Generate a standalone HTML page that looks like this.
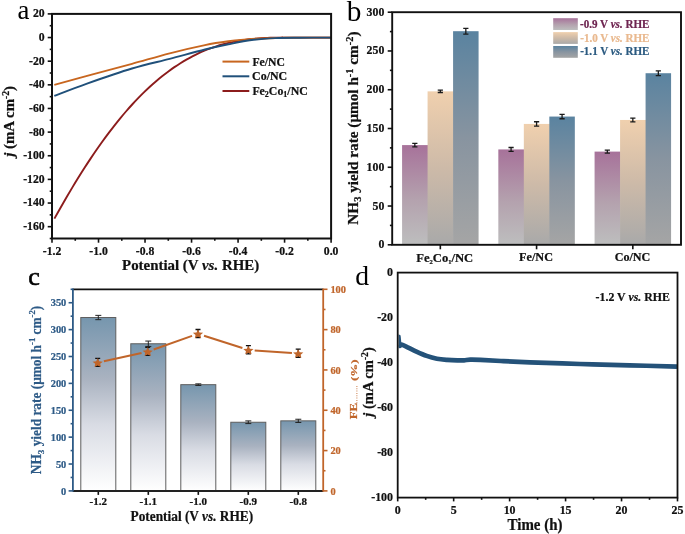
<!DOCTYPE html>
<html><head><meta charset="utf-8"><style>
html,body{margin:0;padding:0;background:#fff;}
svg{display:block;will-change:transform;}
</style></head><body>
<svg width="685" height="534" viewBox="0 0 685 534">
<rect width="685" height="534" fill="#fff"/>
<g id="pa">
<g id="A1" transform="matrix(1.05021,0,0,1.05021,-0.984,-0.899)"><text x="17.6" y="18.6" font-family="Liberation Serif" font-size="25.5" fill="#000">a</text></g>
<line x1="47.7" y1="13.90" x2="52.0" y2="13.90" stroke="#111" stroke-width="1.6"/>
<text x="44.6" y="17.30" font-family="Liberation Serif" font-weight="bold" font-size="11.7" text-anchor="end" fill="#111" stroke="#111" stroke-width="0.22">20</text>
<line x1="49.7" y1="25.72" x2="52.0" y2="25.72" stroke="#111" stroke-width="1.6"/>
<line x1="47.7" y1="37.54" x2="52.0" y2="37.54" stroke="#111" stroke-width="1.6"/>
<text x="44.6" y="40.94" font-family="Liberation Serif" font-weight="bold" font-size="11.7" text-anchor="end" fill="#111" stroke="#111" stroke-width="0.22">0</text>
<line x1="49.7" y1="49.36" x2="52.0" y2="49.36" stroke="#111" stroke-width="1.6"/>
<line x1="47.7" y1="61.18" x2="52.0" y2="61.18" stroke="#111" stroke-width="1.6"/>
<text x="44.6" y="64.58" font-family="Liberation Serif" font-weight="bold" font-size="11.7" text-anchor="end" fill="#111" stroke="#111" stroke-width="0.22">-20</text>
<line x1="49.7" y1="73.01" x2="52.0" y2="73.01" stroke="#111" stroke-width="1.6"/>
<line x1="47.7" y1="84.83" x2="52.0" y2="84.83" stroke="#111" stroke-width="1.6"/>
<text x="44.6" y="88.23" font-family="Liberation Serif" font-weight="bold" font-size="11.7" text-anchor="end" fill="#111" stroke="#111" stroke-width="0.22">-40</text>
<line x1="49.7" y1="96.65" x2="52.0" y2="96.65" stroke="#111" stroke-width="1.6"/>
<line x1="47.7" y1="108.47" x2="52.0" y2="108.47" stroke="#111" stroke-width="1.6"/>
<text x="44.6" y="111.87" font-family="Liberation Serif" font-weight="bold" font-size="11.7" text-anchor="end" fill="#111" stroke="#111" stroke-width="0.22">-60</text>
<line x1="49.7" y1="120.29" x2="52.0" y2="120.29" stroke="#111" stroke-width="1.6"/>
<line x1="47.7" y1="132.11" x2="52.0" y2="132.11" stroke="#111" stroke-width="1.6"/>
<text x="44.6" y="135.51" font-family="Liberation Serif" font-weight="bold" font-size="11.7" text-anchor="end" fill="#111" stroke="#111" stroke-width="0.22">-80</text>
<line x1="49.7" y1="143.93" x2="52.0" y2="143.93" stroke="#111" stroke-width="1.6"/>
<line x1="47.7" y1="155.75" x2="52.0" y2="155.75" stroke="#111" stroke-width="1.6"/>
<text x="44.6" y="159.15" font-family="Liberation Serif" font-weight="bold" font-size="11.7" text-anchor="end" fill="#111" stroke="#111" stroke-width="0.22">-100</text>
<line x1="49.7" y1="167.57" x2="52.0" y2="167.57" stroke="#111" stroke-width="1.6"/>
<line x1="47.7" y1="179.39" x2="52.0" y2="179.39" stroke="#111" stroke-width="1.6"/>
<text x="44.6" y="182.79" font-family="Liberation Serif" font-weight="bold" font-size="11.7" text-anchor="end" fill="#111" stroke="#111" stroke-width="0.22">-120</text>
<line x1="49.7" y1="191.22" x2="52.0" y2="191.22" stroke="#111" stroke-width="1.6"/>
<line x1="47.7" y1="203.04" x2="52.0" y2="203.04" stroke="#111" stroke-width="1.6"/>
<text x="44.6" y="206.44" font-family="Liberation Serif" font-weight="bold" font-size="11.7" text-anchor="end" fill="#111" stroke="#111" stroke-width="0.22">-140</text>
<line x1="49.7" y1="214.86" x2="52.0" y2="214.86" stroke="#111" stroke-width="1.6"/>
<line x1="47.7" y1="226.68" x2="52.0" y2="226.68" stroke="#111" stroke-width="1.6"/>
<text x="44.6" y="230.08" font-family="Liberation Serif" font-weight="bold" font-size="11.7" text-anchor="end" fill="#111" stroke="#111" stroke-width="0.22">-160</text>
<line x1="49.7" y1="238.50" x2="52.0" y2="238.50" stroke="#111" stroke-width="1.6"/>
<line x1="52.00" y1="238.5" x2="52.00" y2="242.7" stroke="#111" stroke-width="1.6"/>
<text x="52.00" y="254.8" font-family="Liberation Serif" font-weight="bold" font-size="11.7" text-anchor="middle" fill="#111" stroke="#111" stroke-width="0.22">-1.2</text>
<line x1="75.26" y1="238.5" x2="75.26" y2="240.8" stroke="#111" stroke-width="1.6"/>
<line x1="98.52" y1="238.5" x2="98.52" y2="242.7" stroke="#111" stroke-width="1.6"/>
<text x="98.52" y="254.8" font-family="Liberation Serif" font-weight="bold" font-size="11.7" text-anchor="middle" fill="#111" stroke="#111" stroke-width="0.22">-1.0</text>
<line x1="121.78" y1="238.5" x2="121.78" y2="240.8" stroke="#111" stroke-width="1.6"/>
<line x1="145.03" y1="238.5" x2="145.03" y2="242.7" stroke="#111" stroke-width="1.6"/>
<text x="145.03" y="254.8" font-family="Liberation Serif" font-weight="bold" font-size="11.7" text-anchor="middle" fill="#111" stroke="#111" stroke-width="0.22">-0.8</text>
<line x1="168.29" y1="238.5" x2="168.29" y2="240.8" stroke="#111" stroke-width="1.6"/>
<line x1="191.55" y1="238.5" x2="191.55" y2="242.7" stroke="#111" stroke-width="1.6"/>
<text x="191.55" y="254.8" font-family="Liberation Serif" font-weight="bold" font-size="11.7" text-anchor="middle" fill="#111" stroke="#111" stroke-width="0.22">-0.6</text>
<line x1="214.81" y1="238.5" x2="214.81" y2="240.8" stroke="#111" stroke-width="1.6"/>
<line x1="238.07" y1="238.5" x2="238.07" y2="242.7" stroke="#111" stroke-width="1.6"/>
<text x="238.07" y="254.8" font-family="Liberation Serif" font-weight="bold" font-size="11.7" text-anchor="middle" fill="#111" stroke="#111" stroke-width="0.22">-0.4</text>
<line x1="261.33" y1="238.5" x2="261.33" y2="240.8" stroke="#111" stroke-width="1.6"/>
<line x1="284.58" y1="238.5" x2="284.58" y2="242.7" stroke="#111" stroke-width="1.6"/>
<text x="284.58" y="254.8" font-family="Liberation Serif" font-weight="bold" font-size="11.7" text-anchor="middle" fill="#111" stroke="#111" stroke-width="0.22">-0.2</text>
<line x1="307.84" y1="238.5" x2="307.84" y2="240.8" stroke="#111" stroke-width="1.6"/>
<line x1="331.10" y1="238.5" x2="331.10" y2="242.7" stroke="#111" stroke-width="1.6"/>
<text x="331.10" y="254.8" font-family="Liberation Serif" font-weight="bold" font-size="11.7" text-anchor="middle" fill="#111" stroke="#111" stroke-width="0.22">0.0</text>
<path d="M54.40,218.65 C55.40,216.87 58.40,211.45 60.40,207.92 C62.40,204.40 64.40,200.92 66.40,197.49 C68.40,194.07 70.40,190.69 72.40,187.37 C74.40,184.05 76.40,180.77 78.40,177.56 C80.40,174.34 82.40,171.17 84.40,168.06 C86.40,164.95 88.40,161.90 90.40,158.90 C92.40,155.89 94.40,152.95 96.40,150.06 C98.40,147.17 100.40,144.33 102.40,141.55 C104.40,138.77 106.40,136.05 108.40,133.39 C110.40,130.73 112.40,128.12 114.40,125.57 C116.40,123.03 118.40,120.54 120.40,118.11 C122.40,115.68 124.40,113.31 126.40,111.00 C128.40,108.69 130.40,106.44 132.40,104.26 C134.40,102.07 136.40,99.95 138.40,97.88 C140.40,95.82 142.40,93.82 144.40,91.88 C146.40,89.93 148.40,88.05 150.40,86.23 C152.40,84.41 154.40,82.65 156.40,80.94 C158.40,79.24 160.40,77.59 162.40,76.01 C164.40,74.42 166.40,72.89 168.40,71.41 C170.40,69.93 172.40,68.52 174.40,67.15 C176.40,65.79 178.40,64.48 180.40,63.23 C182.40,61.97 184.40,60.77 186.40,59.63 C188.40,58.48 190.40,57.39 192.40,56.34 C194.40,55.30 196.40,54.31 198.40,53.38 C200.40,52.44 202.40,51.55 204.40,50.71 C206.40,49.88 208.40,49.09 210.40,48.35 C212.40,47.61 214.40,46.92 216.40,46.28 C218.40,45.64 220.40,45.04 222.40,44.49 C224.40,43.93 226.40,43.42 228.40,42.95 C230.40,42.47 232.40,42.04 234.40,41.64 C236.40,41.25 238.40,40.89 240.40,40.56 C242.40,40.23 244.40,39.94 246.40,39.68 C248.40,39.41 250.40,39.18 252.40,38.98 C254.40,38.77 256.40,38.59 258.40,38.44 C260.40,38.28 262.40,38.16 264.40,38.04 C266.40,37.93 268.40,37.85 270.40,37.78 C272.40,37.70 274.40,37.65 276.40,37.61 C278.40,37.58 280.97,37.54 282.40,37.54 C283.83,37.55 276.90,37.63 285.00,37.65 C293.10,37.67 323.33,37.65 331.00,37.65" fill="none" stroke="#8c1c1c" stroke-width="1.9" stroke-linejoin="round"/>
<path d="M54.30,84.80 C60.53,83.10 78.75,78.10 91.70,74.60 C104.65,71.10 119.00,67.35 132.00,63.80 C145.00,60.25 157.53,56.42 169.70,53.30 C181.87,50.18 195.22,47.10 205.00,45.10 C214.78,43.10 220.62,42.33 228.40,41.30 C236.18,40.27 242.27,39.49 251.70,38.90 C261.13,38.31 271.78,37.96 285.00,37.75 C298.22,37.54 323.33,37.67 331.00,37.65" fill="none" stroke="#c8661f" stroke-width="1.9" stroke-linejoin="round"/>
<path d="M54.30,95.90 C59.75,93.85 74.05,88.17 87.00,83.60 C99.95,79.03 118.22,72.63 132.00,68.50 C145.78,64.37 157.53,61.97 169.70,58.80 C181.87,55.63 195.22,51.92 205.00,49.50 C214.78,47.08 220.62,45.88 228.40,44.30 C236.18,42.72 243.93,41.03 251.70,40.00 C259.47,38.97 266.95,38.48 275.00,38.10 C283.05,37.72 290.67,37.78 300.00,37.70 C309.33,37.62 325.83,37.66 331.00,37.65" fill="none" stroke="#20507a" stroke-width="1.9" stroke-linejoin="round"/>
<rect x="52.0" y="13.9" width="279.10" height="224.60" fill="none" stroke="#111" stroke-width="2.0"/>
<line x1="222.5" y1="61.60" x2="249.3" y2="61.60" stroke="#c8661f" stroke-width="2"/>
<g id="A40" transform="matrix(0.98985,0,0,1.05914,2.506,-3.516)"><text x="252.5" y="65.60" font-family="Liberation Serif" font-weight="bold" font-size="11.8" fill="#111" stroke="#111" stroke-width="0.22">Fe/NC</text></g>
<line x1="222.5" y1="76.30" x2="249.3" y2="76.30" stroke="#20507a" stroke-width="2"/>
<g id="A41" transform="matrix(1.01000,0,0,1.08070,-2.893,-6.438)"><text x="252.5" y="80.30" font-family="Liberation Serif" font-weight="bold" font-size="11.8" fill="#111" stroke="#111" stroke-width="0.22">Co/NC</text></g>
<line x1="222.5" y1="91.00" x2="249.3" y2="91.00" stroke="#8c1c1c" stroke-width="2"/>
<g id="A42" transform="matrix(1.00287,0,0,1.07307,-0.840,-7.261)"><text x="252.5" y="95.00" font-family="Liberation Serif" font-weight="bold" font-size="11.8" fill="#111" stroke="#111" stroke-width="0.22">Fe<tspan font-size="8" dy="2.5">2</tspan><tspan dy="-2.5">Co</tspan><tspan font-size="8" dy="2.5">1</tspan><tspan dy="-2.5">/NC</tspan></text></g>
<g id="A2" transform="matrix(1.00743,0,0,1.00743,-1.564,-2.047)"><text x="122.7" y="270" font-family="Liberation Serif" font-weight="bold" font-size="14.8" fill="#111" stroke="#111" stroke-width="0.22">Potential (V <tspan font-style="italic">vs.</tspan> RHE)</text></g>
<g id="A3" transform="matrix(1.00000,0,0,1.04173,-2.037,-4.612)"><text transform="translate(16.5,155) rotate(-90)" font-family="Liberation Serif" font-weight="bold" font-size="14.3" fill="#111" stroke="#111" stroke-width="0.22"><tspan font-style="italic">j</tspan> (mA cm<tspan font-size="9.3" dy="-5.5">-2</tspan><tspan dy="5.5">)</tspan></text></g>
</g>
<defs>
<linearGradient id="gpu" x1="0" y1="0" x2="0" y2="1"><stop offset="0" stop-color="#a7729a"/><stop offset="0.55" stop-color="#b4a2ae"/><stop offset="1" stop-color="#bdbebe"/></linearGradient>
<linearGradient id="gpe" x1="0" y1="0" x2="0" y2="1"><stop offset="0" stop-color="#f0d0ae"/><stop offset="0.5" stop-color="#cdbaa8"/><stop offset="1" stop-color="#a9a9a9"/></linearGradient>
<linearGradient id="gbl" x1="0" y1="0" x2="0" y2="1"><stop offset="0" stop-color="#5a83a0"/><stop offset="0.5" stop-color="#8894a0"/><stop offset="1" stop-color="#a5a5a5"/></linearGradient>
<linearGradient id="gc" x1="0" y1="0" x2="0" y2="1"><stop offset="0" stop-color="#7696ae"/><stop offset="0.35" stop-color="#a9b2c0"/><stop offset="0.62" stop-color="#d9dce4"/><stop offset="1" stop-color="#ffffff"/></linearGradient>
</defs>
<g id="pb">
<g id="B1" transform="matrix(1.12749,0,0,1.12749,-43.599,-1.394)"><text x="346.3" y="20.0" font-family="Liberation Serif" font-size="26" fill="#000">b</text></g>
<line x1="387.7" y1="244.80" x2="392.2" y2="244.80" stroke="#111" stroke-width="1.6"/>
<text x="384.3" y="248.30" font-family="Liberation Serif" font-weight="bold" font-size="11.8" text-anchor="end" fill="#111" stroke="#111" stroke-width="0.22">0</text>
<line x1="389.9" y1="225.42" x2="392.2" y2="225.42" stroke="#111" stroke-width="1.6"/>
<line x1="387.7" y1="206.03" x2="392.2" y2="206.03" stroke="#111" stroke-width="1.6"/>
<text x="384.3" y="209.53" font-family="Liberation Serif" font-weight="bold" font-size="11.8" text-anchor="end" fill="#111" stroke="#111" stroke-width="0.22">50</text>
<line x1="389.9" y1="186.65" x2="392.2" y2="186.65" stroke="#111" stroke-width="1.6"/>
<line x1="387.7" y1="167.27" x2="392.2" y2="167.27" stroke="#111" stroke-width="1.6"/>
<text x="384.3" y="170.77" font-family="Liberation Serif" font-weight="bold" font-size="11.8" text-anchor="end" fill="#111" stroke="#111" stroke-width="0.22">100</text>
<line x1="389.9" y1="147.88" x2="392.2" y2="147.88" stroke="#111" stroke-width="1.6"/>
<line x1="387.7" y1="128.50" x2="392.2" y2="128.50" stroke="#111" stroke-width="1.6"/>
<text x="384.3" y="132.00" font-family="Liberation Serif" font-weight="bold" font-size="11.8" text-anchor="end" fill="#111" stroke="#111" stroke-width="0.22">150</text>
<line x1="389.9" y1="109.12" x2="392.2" y2="109.12" stroke="#111" stroke-width="1.6"/>
<line x1="387.7" y1="89.73" x2="392.2" y2="89.73" stroke="#111" stroke-width="1.6"/>
<text x="384.3" y="93.23" font-family="Liberation Serif" font-weight="bold" font-size="11.8" text-anchor="end" fill="#111" stroke="#111" stroke-width="0.22">200</text>
<line x1="389.9" y1="70.35" x2="392.2" y2="70.35" stroke="#111" stroke-width="1.6"/>
<line x1="387.7" y1="50.97" x2="392.2" y2="50.97" stroke="#111" stroke-width="1.6"/>
<text x="384.3" y="54.47" font-family="Liberation Serif" font-weight="bold" font-size="11.8" text-anchor="end" fill="#111" stroke="#111" stroke-width="0.22">250</text>
<line x1="389.9" y1="31.58" x2="392.2" y2="31.58" stroke="#111" stroke-width="1.6"/>
<line x1="387.7" y1="12.20" x2="392.2" y2="12.20" stroke="#111" stroke-width="1.6"/>
<text x="384.3" y="15.70" font-family="Liberation Serif" font-weight="bold" font-size="11.8" text-anchor="end" fill="#111" stroke="#111" stroke-width="0.22">300</text>
<rect x="402.08" y="145.09" width="26.1" height="99.71" fill="url(#gpu)"/>
<path d="M414.83,143.39V146.80M412.23,143.39h5.2M412.23,146.80h5.2" stroke="#1a1a1a" stroke-width="1.3"/>
<rect x="427.58" y="91.36" width="26.1" height="153.44" fill="url(#gpe)"/>
<path d="M440.33,90.20V92.52M437.73,90.20h5.2M437.73,92.52h5.2" stroke="#1a1a1a" stroke-width="1.3"/>
<rect x="453.08" y="31.20" width="25.5" height="213.60" fill="url(#gbl)"/>
<path d="M465.83,28.33V34.06M463.23,28.33h5.2M463.23,34.06h5.2" stroke="#1a1a1a" stroke-width="1.3"/>
<line x1="440.33" y1="244.8" x2="440.33" y2="249.3" stroke="#111" stroke-width="1.6"/>
<g id="B60" transform="matrix(1.05012,0,0,1.05012,-17.684,-13.866)"><text x="440.33" y="262.8" font-family="Liberation Serif" font-weight="bold" font-size="12" text-anchor="middle" fill="#111" stroke="#111" stroke-width="0.22">Fe<tspan font-size="6.2" dy="2.0">2</tspan><tspan dy="-2.0">Co</tspan><tspan font-size="6.2" dy="2.0">1</tspan><tspan dy="-2.0">/NC</tspan></text></g>
<rect x="498.33" y="149.43" width="26.1" height="95.37" fill="url(#gpu)"/>
<path d="M511.08,147.50V151.37M508.48,147.50h5.2M508.48,151.37h5.2" stroke="#1a1a1a" stroke-width="1.3"/>
<rect x="523.83" y="123.93" width="26.1" height="120.87" fill="url(#gpe)"/>
<path d="M536.58,121.75V126.10M533.98,121.75h5.2M533.98,126.10h5.2" stroke="#1a1a1a" stroke-width="1.3"/>
<rect x="549.33" y="116.56" width="25.5" height="128.24" fill="url(#gbl)"/>
<path d="M562.08,114.39V118.73M559.48,114.39h5.2M559.48,118.73h5.2" stroke="#1a1a1a" stroke-width="1.3"/>
<line x1="536.58" y1="244.8" x2="536.58" y2="249.3" stroke="#111" stroke-width="1.6"/>
<g id="B61" transform="matrix(1.01487,0,0,1.11635,-8.529,-32.623)"><text x="536.58" y="262.8" font-family="Liberation Serif" font-weight="bold" font-size="12" text-anchor="middle" fill="#111" stroke="#111" stroke-width="0.22">Fe/NC</text></g>
<rect x="594.58" y="151.60" width="26.1" height="93.20" fill="url(#gpu)"/>
<path d="M607.33,150.05V153.16M604.73,150.05h5.2M604.73,153.16h5.2" stroke="#1a1a1a" stroke-width="1.3"/>
<rect x="620.08" y="119.97" width="26.1" height="124.83" fill="url(#gpe)"/>
<path d="M632.83,118.11V121.83M630.23,118.11h5.2M630.23,121.83h5.2" stroke="#1a1a1a" stroke-width="1.3"/>
<rect x="645.58" y="73.22" width="25.5" height="171.58" fill="url(#gbl)"/>
<path d="M658.33,70.82V75.62M655.73,70.82h5.2M655.73,75.62h5.2" stroke="#1a1a1a" stroke-width="1.3"/>
<line x1="632.83" y1="244.8" x2="632.83" y2="249.3" stroke="#111" stroke-width="1.6"/>
<g id="B62" transform="matrix(1.01019,0,0,1.11120,-6.747,-31.280)"><text x="632.83" y="262.8" font-family="Liberation Serif" font-weight="bold" font-size="12" text-anchor="middle" fill="#111" stroke="#111" stroke-width="0.22">Co/NC</text></g>
<rect x="392.2" y="12.2" width="288.80" height="232.60" fill="none" stroke="#111" stroke-width="1.9"/>
<rect x="553.2" y="18.20" width="24.6" height="11.8" fill="url(#gpu)"/>
<g id="B30" transform="matrix(0.98848,0,0,1.05767,6.025,-1.565)"><text x="580.7" y="28.20" font-family="Liberation Serif" font-weight="bold" font-size="11.2" fill="#6e2450" stroke="#6e2450" stroke-width="0.22">-0.9 V <tspan font-style="italic">vs.</tspan> RHE</text></g>
<rect x="553.2" y="32.10" width="24.6" height="11.8" fill="url(#gpe)"/>
<g id="B31" transform="matrix(0.98789,0,0,1.05705,6.539,-2.904)"><text x="580.7" y="42.10" font-family="Liberation Serif" font-weight="bold" font-size="11.2" fill="#e9b98f" stroke="#e9b98f" stroke-width="0.22">-1.0 V <tspan font-style="italic">vs.</tspan> RHE</text></g>
<rect x="553.2" y="46.00" width="24.6" height="11.8" fill="url(#gbl)"/>
<g id="B32" transform="matrix(0.98791,0,0,1.05707,6.495,-3.802)"><text x="580.7" y="56.00" font-family="Liberation Serif" font-weight="bold" font-size="11.2" fill="#2b5a80" stroke="#2b5a80" stroke-width="0.22">-1.1 V <tspan font-style="italic">vs.</tspan> RHE</text></g>
<g id="B2" transform="matrix(1.00000,0,0,1.09009,0.167,-19.892)"><text transform="translate(358,224.4) rotate(-90)" font-family="Liberation Serif" font-weight="bold" font-size="14" fill="#111" stroke="#111" stroke-width="0.22">NH<tspan font-size="9.5" dy="3">3</tspan><tspan dy="-3"> yield rate (μmol h</tspan><tspan font-size="9.5" dy="-5.5">-1</tspan><tspan dy="5.5"> cm</tspan><tspan font-size="9.5" dy="-5.5">-2</tspan><tspan dy="5.5">)</tspan></text></g>
</g>
<g id="pc">
<g id="C1" transform="matrix(0.98631,0,0,0.98631,0.314,3.645)"><text x="28.3" y="284.8" font-family="Liberation Serif" font-size="26.5" fill="#000" stroke="#000" stroke-width="0.6">c</text></g>
<rect x="80.80" y="317.52" width="35" height="173.38" fill="url(#gc)" stroke="#5e5e5e" stroke-width="1"/>
<path d="M98.30,315.37V319.67M95.30,315.37h6M95.30,319.67h6" stroke="#222" stroke-width="1"/>
<line x1="98.30" y1="490.9" x2="98.30" y2="494.9" stroke="#111" stroke-width="1.6"/>
<text x="98.30" y="505.4" font-family="Liberation Serif" font-weight="bold" font-size="11" text-anchor="middle" fill="#111" stroke="#111" stroke-width="0.22">-1.2</text>
<rect x="130.80" y="343.76" width="35" height="147.14" fill="url(#gc)" stroke="#5e5e5e" stroke-width="1"/>
<path d="M148.30,341.07V346.45M145.30,341.07h6M145.30,346.45h6" stroke="#222" stroke-width="1"/>
<line x1="148.30" y1="490.9" x2="148.30" y2="494.9" stroke="#111" stroke-width="1.6"/>
<text x="148.30" y="505.4" font-family="Liberation Serif" font-weight="bold" font-size="11" text-anchor="middle" fill="#111" stroke="#111" stroke-width="0.22">-1.1</text>
<rect x="180.80" y="384.67" width="35" height="106.23" fill="url(#gc)" stroke="#5e5e5e" stroke-width="1"/>
<path d="M198.30,383.86V385.48M195.30,383.86h6M195.30,385.48h6" stroke="#222" stroke-width="1"/>
<line x1="198.30" y1="490.9" x2="198.30" y2="494.9" stroke="#111" stroke-width="1.6"/>
<text x="198.30" y="505.4" font-family="Liberation Serif" font-weight="bold" font-size="11" text-anchor="middle" fill="#111" stroke="#111" stroke-width="0.22">-1.0</text>
<rect x="230.80" y="422.25" width="35" height="68.65" fill="url(#gc)" stroke="#5e5e5e" stroke-width="1"/>
<path d="M248.30,420.90V423.59M245.30,420.90h6M245.30,423.59h6" stroke="#222" stroke-width="1"/>
<line x1="248.30" y1="490.9" x2="248.30" y2="494.9" stroke="#111" stroke-width="1.6"/>
<text x="248.30" y="505.4" font-family="Liberation Serif" font-weight="bold" font-size="11" text-anchor="middle" fill="#111" stroke="#111" stroke-width="0.22">-0.9</text>
<rect x="280.80" y="420.85" width="35" height="70.05" fill="url(#gc)" stroke="#5e5e5e" stroke-width="1"/>
<path d="M298.30,419.24V422.46M295.30,419.24h6M295.30,422.46h6" stroke="#222" stroke-width="1"/>
<line x1="298.30" y1="490.9" x2="298.30" y2="494.9" stroke="#111" stroke-width="1.6"/>
<text x="298.30" y="505.4" font-family="Liberation Serif" font-weight="bold" font-size="11" text-anchor="middle" fill="#111" stroke="#111" stroke-width="0.22">-0.8</text>
<line x1="103.85" y1="361.25" x2="141.55" y2="352.95" stroke="#c0652a" stroke-width="2"/>
<line x1="153.64" y1="349.50" x2="192.06" y2="335.90" stroke="#c0652a" stroke-width="2"/>
<line x1="204.00" y1="335.73" x2="242.40" y2="348.07" stroke="#c0652a" stroke-width="2"/>
<line x1="254.68" y1="350.44" x2="291.92" y2="353.06" stroke="#c0652a" stroke-width="2"/>
<path d="M97.70,358.30V366.40M95.20,358.30h5M95.20,366.40h5" stroke="#111" stroke-width="1.3"/>
<polygon points="97.70,358.35 99.22,361.25 102.84,361.63 100.17,363.80 100.87,366.94 97.70,365.38 94.53,366.94 95.23,363.80 92.56,361.63 96.18,361.25" fill="#c0652a"/>
<path d="M147.70,347.30V355.40M145.20,347.30h5M145.20,355.40h5" stroke="#111" stroke-width="1.3"/>
<polygon points="147.70,347.35 149.22,350.25 152.84,350.63 150.17,352.80 150.87,355.94 147.70,354.38 144.53,355.94 145.23,352.80 142.56,350.63 146.18,350.25" fill="#c0652a"/>
<path d="M198.00,329.50V337.60M195.50,329.50h5M195.50,337.60h5" stroke="#111" stroke-width="1.3"/>
<polygon points="198.00,329.55 199.52,332.45 203.14,332.83 200.47,335.00 201.17,338.14 198.00,336.58 194.83,338.14 195.53,335.00 192.86,332.83 196.48,332.45" fill="#c0652a"/>
<path d="M248.40,345.70V353.80M245.90,345.70h5M245.90,353.80h5" stroke="#111" stroke-width="1.3"/>
<polygon points="248.40,345.75 249.92,348.65 253.54,349.03 250.87,351.20 251.57,354.34 248.40,352.78 245.23,354.34 245.93,351.20 243.26,349.03 246.88,348.65" fill="#c0652a"/>
<path d="M298.20,349.20V357.30M295.70,349.20h5M295.70,357.30h5" stroke="#111" stroke-width="1.3"/>
<polygon points="298.20,349.25 299.72,352.15 303.34,352.53 300.67,354.70 301.37,357.84 298.20,356.28 295.03,357.84 295.73,354.70 293.06,352.53 296.68,352.15" fill="#c0652a"/>
<line x1="68.6" y1="490.90" x2="72.9" y2="490.90" stroke="#2d5a86" stroke-width="1.6"/>
<text x="66.3" y="494.50" font-family="Liberation Serif" font-weight="bold" font-size="10.4" text-anchor="end" fill="#2d5a86" stroke="#2d5a86" stroke-width="0.22">0</text>
<line x1="70.6" y1="477.46" x2="72.9" y2="477.46" stroke="#2d5a86" stroke-width="1.6"/>
<line x1="68.6" y1="464.02" x2="72.9" y2="464.02" stroke="#2d5a86" stroke-width="1.6"/>
<text x="66.3" y="467.62" font-family="Liberation Serif" font-weight="bold" font-size="10.4" text-anchor="end" fill="#2d5a86" stroke="#2d5a86" stroke-width="0.22">50</text>
<line x1="70.6" y1="450.58" x2="72.9" y2="450.58" stroke="#2d5a86" stroke-width="1.6"/>
<line x1="68.6" y1="437.14" x2="72.9" y2="437.14" stroke="#2d5a86" stroke-width="1.6"/>
<text x="66.3" y="440.74" font-family="Liberation Serif" font-weight="bold" font-size="10.4" text-anchor="end" fill="#2d5a86" stroke="#2d5a86" stroke-width="0.22">100</text>
<line x1="70.6" y1="423.70" x2="72.9" y2="423.70" stroke="#2d5a86" stroke-width="1.6"/>
<line x1="68.6" y1="410.26" x2="72.9" y2="410.26" stroke="#2d5a86" stroke-width="1.6"/>
<text x="66.3" y="413.86" font-family="Liberation Serif" font-weight="bold" font-size="10.4" text-anchor="end" fill="#2d5a86" stroke="#2d5a86" stroke-width="0.22">150</text>
<line x1="70.6" y1="396.82" x2="72.9" y2="396.82" stroke="#2d5a86" stroke-width="1.6"/>
<line x1="68.6" y1="383.38" x2="72.9" y2="383.38" stroke="#2d5a86" stroke-width="1.6"/>
<text x="66.3" y="386.98" font-family="Liberation Serif" font-weight="bold" font-size="10.4" text-anchor="end" fill="#2d5a86" stroke="#2d5a86" stroke-width="0.22">200</text>
<line x1="70.6" y1="369.94" x2="72.9" y2="369.94" stroke="#2d5a86" stroke-width="1.6"/>
<line x1="68.6" y1="356.50" x2="72.9" y2="356.50" stroke="#2d5a86" stroke-width="1.6"/>
<text x="66.3" y="360.10" font-family="Liberation Serif" font-weight="bold" font-size="10.4" text-anchor="end" fill="#2d5a86" stroke="#2d5a86" stroke-width="0.22">250</text>
<line x1="70.6" y1="343.06" x2="72.9" y2="343.06" stroke="#2d5a86" stroke-width="1.6"/>
<line x1="68.6" y1="329.62" x2="72.9" y2="329.62" stroke="#2d5a86" stroke-width="1.6"/>
<text x="66.3" y="333.22" font-family="Liberation Serif" font-weight="bold" font-size="10.4" text-anchor="end" fill="#2d5a86" stroke="#2d5a86" stroke-width="0.22">300</text>
<line x1="70.6" y1="316.18" x2="72.9" y2="316.18" stroke="#2d5a86" stroke-width="1.6"/>
<line x1="68.6" y1="302.74" x2="72.9" y2="302.74" stroke="#2d5a86" stroke-width="1.6"/>
<text x="66.3" y="306.34" font-family="Liberation Serif" font-weight="bold" font-size="10.4" text-anchor="end" fill="#2d5a86" stroke="#2d5a86" stroke-width="0.22">350</text>
<line x1="70.6" y1="289.30" x2="72.9" y2="289.30" stroke="#2d5a86" stroke-width="1.6"/>
<line x1="323.2" y1="490.90" x2="327.5" y2="490.90" stroke="#c0652a" stroke-width="1.6"/>
<text x="330.4" y="494.50" font-family="Liberation Serif" font-weight="bold" font-size="10.4" fill="#c0652a" stroke="#c0652a" stroke-width="0.22">0</text>
<line x1="323.2" y1="470.74" x2="325.5" y2="470.74" stroke="#c0652a" stroke-width="1.6"/>
<line x1="323.2" y1="450.58" x2="327.5" y2="450.58" stroke="#c0652a" stroke-width="1.6"/>
<text x="330.4" y="454.18" font-family="Liberation Serif" font-weight="bold" font-size="10.4" fill="#c0652a" stroke="#c0652a" stroke-width="0.22">20</text>
<line x1="323.2" y1="430.42" x2="325.5" y2="430.42" stroke="#c0652a" stroke-width="1.6"/>
<line x1="323.2" y1="410.26" x2="327.5" y2="410.26" stroke="#c0652a" stroke-width="1.6"/>
<text x="330.4" y="413.86" font-family="Liberation Serif" font-weight="bold" font-size="10.4" fill="#c0652a" stroke="#c0652a" stroke-width="0.22">40</text>
<line x1="323.2" y1="390.10" x2="325.5" y2="390.10" stroke="#c0652a" stroke-width="1.6"/>
<line x1="323.2" y1="369.94" x2="327.5" y2="369.94" stroke="#c0652a" stroke-width="1.6"/>
<text x="330.4" y="373.54" font-family="Liberation Serif" font-weight="bold" font-size="10.4" fill="#c0652a" stroke="#c0652a" stroke-width="0.22">60</text>
<line x1="323.2" y1="349.78" x2="325.5" y2="349.78" stroke="#c0652a" stroke-width="1.6"/>
<line x1="323.2" y1="329.62" x2="327.5" y2="329.62" stroke="#c0652a" stroke-width="1.6"/>
<text x="330.4" y="333.22" font-family="Liberation Serif" font-weight="bold" font-size="10.4" fill="#c0652a" stroke="#c0652a" stroke-width="0.22">80</text>
<line x1="323.2" y1="309.46" x2="325.5" y2="309.46" stroke="#c0652a" stroke-width="1.6"/>
<line x1="323.2" y1="289.30" x2="327.5" y2="289.30" stroke="#c0652a" stroke-width="1.6"/>
<text x="330.4" y="292.90" font-family="Liberation Serif" font-weight="bold" font-size="10.4" fill="#c0652a" stroke="#c0652a" stroke-width="0.22">100</text>
<line x1="72.9" y1="289.3" x2="323.2" y2="289.3" stroke="#111" stroke-width="1.7"/>
<line x1="72.9" y1="490.9" x2="323.2" y2="490.9" stroke="#222" stroke-width="2.0"/>
<line x1="72.9" y1="288.6" x2="72.9" y2="491.59999999999997" stroke="#2d5a86" stroke-width="1.8"/>
<line x1="323.2" y1="288.6" x2="323.2" y2="491.59999999999997" stroke="#c0652a" stroke-width="1.8"/>
<g id="C2" transform="matrix(0.96616,0,0,1.06278,6.906,-33.050)"><text x="128" y="521" font-family="Liberation Serif" font-weight="bold" font-size="13.8" fill="#111" stroke="#111" stroke-width="0.22">Potential (V <tspan font-style="italic">vs.</tspan> RHE)</text></g>
<g id="C3" transform="matrix(1.00000,0,0,0.97569,-0.404,11.360)"><text transform="translate(41.2,474.4) rotate(-90)" font-family="Liberation Serif" font-weight="bold" font-size="13.7" fill="#2d5a86" stroke="#2d5a86" stroke-width="0.22">NH<tspan font-size="9.2" dy="3.0">3</tspan><tspan dy="-3.0"> yield rate (μmol h</tspan><tspan font-size="8.9" dy="-5.3">-1</tspan><tspan dy="5.3"> cm</tspan><tspan font-size="8.9" dy="-5.3">-2</tspan><tspan dy="5.3">)</tspan></text></g>
<g id="C4" transform="matrix(1.00000,0,0,1.01755,-0.311,-7.288)"><g><text transform="translate(357.8,419.2) rotate(-90) scale(1.22,1)" font-family="Liberation Serif" font-weight="bold" font-size="10.3" fill="#c0652a" stroke="#c0652a" stroke-width="0.22">FE</text><line x1="357.2" y1="403.5" x2="357.2" y2="386.5" stroke="#c0652a" stroke-width="1" stroke-dasharray="1,1.3" opacity="0.85"/><text transform="translate(357.4,381.6) rotate(-90) scale(1.55,1)" font-family="Liberation Serif" font-weight="bold" font-size="8.2" fill="#c0652a" stroke="#c0652a" stroke-width="0.22">(%)</text></g></g>
</g>
<g id="pd">
<g id="D1" transform="matrix(1.06320,0,0,1.06320,-22.580,-17.606)"><text x="355.5" y="284.6" font-family="Liberation Serif" font-size="26" fill="#000">d</text></g>
<text x="393" y="276.00" font-family="Liberation Serif" font-weight="bold" font-size="11.9" text-anchor="end" fill="#111" stroke="#111" stroke-width="0.22">0</text>
<text x="393" y="321.00" font-family="Liberation Serif" font-weight="bold" font-size="11.9" text-anchor="end" fill="#111" stroke="#111" stroke-width="0.22">-20</text>
<text x="393" y="366.00" font-family="Liberation Serif" font-weight="bold" font-size="11.9" text-anchor="end" fill="#111" stroke="#111" stroke-width="0.22">-40</text>
<text x="393" y="411.00" font-family="Liberation Serif" font-weight="bold" font-size="11.9" text-anchor="end" fill="#111" stroke="#111" stroke-width="0.22">-60</text>
<text x="393" y="456.00" font-family="Liberation Serif" font-weight="bold" font-size="11.9" text-anchor="end" fill="#111" stroke="#111" stroke-width="0.22">-80</text>
<text x="393" y="501.00" font-family="Liberation Serif" font-weight="bold" font-size="11.9" text-anchor="end" fill="#111" stroke="#111" stroke-width="0.22">-100</text>
<line x1="397.70" y1="497.6" x2="397.70" y2="501.40000000000003" stroke="#111" stroke-width="1.6"/>
<text x="397.70" y="514.2" font-family="Liberation Serif" font-weight="bold" font-size="11.9" text-anchor="middle" fill="#111" stroke="#111" stroke-width="0.22">0</text>
<line x1="425.68" y1="497.6" x2="425.68" y2="499.8" stroke="#111" stroke-width="1.6"/>
<line x1="453.66" y1="497.6" x2="453.66" y2="501.40000000000003" stroke="#111" stroke-width="1.6"/>
<text x="453.66" y="514.2" font-family="Liberation Serif" font-weight="bold" font-size="11.9" text-anchor="middle" fill="#111" stroke="#111" stroke-width="0.22">5</text>
<line x1="481.64" y1="497.6" x2="481.64" y2="499.8" stroke="#111" stroke-width="1.6"/>
<line x1="509.62" y1="497.6" x2="509.62" y2="501.40000000000003" stroke="#111" stroke-width="1.6"/>
<text x="509.62" y="514.2" font-family="Liberation Serif" font-weight="bold" font-size="11.9" text-anchor="middle" fill="#111" stroke="#111" stroke-width="0.22">10</text>
<line x1="537.60" y1="497.6" x2="537.60" y2="499.8" stroke="#111" stroke-width="1.6"/>
<line x1="565.58" y1="497.6" x2="565.58" y2="501.40000000000003" stroke="#111" stroke-width="1.6"/>
<text x="565.58" y="514.2" font-family="Liberation Serif" font-weight="bold" font-size="11.9" text-anchor="middle" fill="#111" stroke="#111" stroke-width="0.22">15</text>
<line x1="593.56" y1="497.6" x2="593.56" y2="499.8" stroke="#111" stroke-width="1.6"/>
<line x1="621.54" y1="497.6" x2="621.54" y2="501.40000000000003" stroke="#111" stroke-width="1.6"/>
<text x="621.54" y="514.2" font-family="Liberation Serif" font-weight="bold" font-size="11.9" text-anchor="middle" fill="#111" stroke="#111" stroke-width="0.22">20</text>
<line x1="649.52" y1="497.6" x2="649.52" y2="499.8" stroke="#111" stroke-width="1.6"/>
<line x1="677.50" y1="497.6" x2="677.50" y2="501.40000000000003" stroke="#111" stroke-width="1.6"/>
<text x="677.50" y="514.2" font-family="Liberation Serif" font-weight="bold" font-size="11.9" text-anchor="middle" fill="#111" stroke="#111" stroke-width="0.22">25</text>
<path d="M399.00,344.20 C399.50,344.30 400.80,344.40 402.00,344.80 C403.20,345.20 403.80,345.47 406.20,346.60 C408.60,347.73 412.98,350.05 416.40,351.60 C419.82,353.15 423.28,354.72 426.70,355.90 C430.12,357.08 433.50,358.03 436.90,358.70 C440.30,359.37 443.70,359.62 447.10,359.90 C450.50,360.18 454.48,360.33 457.30,360.40 C460.12,360.47 461.85,360.42 464.00,360.30 C466.15,360.18 467.47,359.77 470.20,359.70 C472.93,359.63 475.28,359.68 480.40,359.90 C485.52,360.12 492.63,360.60 500.90,361.00 C509.17,361.40 516.82,361.80 530.00,362.30 C543.18,362.80 563.40,363.50 580.00,364.00 C596.60,364.50 613.43,364.87 629.60,365.30 C645.77,365.73 669.10,366.38 677.00,366.60" fill="none" stroke="#245279" stroke-width="4.7" stroke-linecap="butt" stroke-linejoin="round"/>
<path d="M398.6,334.2 L400.6,335.5 L401.2,341.5 L401.5,348 L398.6,348.3 Z" fill="#245279"/>
<rect x="397.7" y="272.6" width="279.80" height="225.00" fill="none" stroke="#111" stroke-width="1.8"/>
<g id="D4" transform="matrix(1.00426,0,0,1.07456,-2.902,-22.665)"><text x="596" y="301.5" font-family="Liberation Serif" font-weight="bold" font-size="11.8" fill="#111" stroke="#111" stroke-width="0.22">-1.2 V <tspan font-style="italic">vs.</tspan> RHE</text></g>
<g id="D2" transform="matrix(1.00928,0,0,1.07993,-4.637,-41.055)"><text x="534.7" y="528.7" font-family="Liberation Serif" font-weight="bold" font-size="14.8" text-anchor="middle" fill="#111" stroke="#111" stroke-width="0.22">Time (h)</text></g>
<g id="D3" transform="matrix(1.00000,0,0,1.04099,-2.509,-16.381)"><text transform="translate(376,416) rotate(-90)" font-family="Liberation Serif" font-weight="bold" font-size="14" fill="#111" stroke="#111" stroke-width="0.22"><tspan font-style="italic">j</tspan> (mA cm<tspan font-size="9.3" dy="-5.5">-2</tspan><tspan dy="5.5">)</tspan></text></g>
</g>
</svg>
</body></html>
